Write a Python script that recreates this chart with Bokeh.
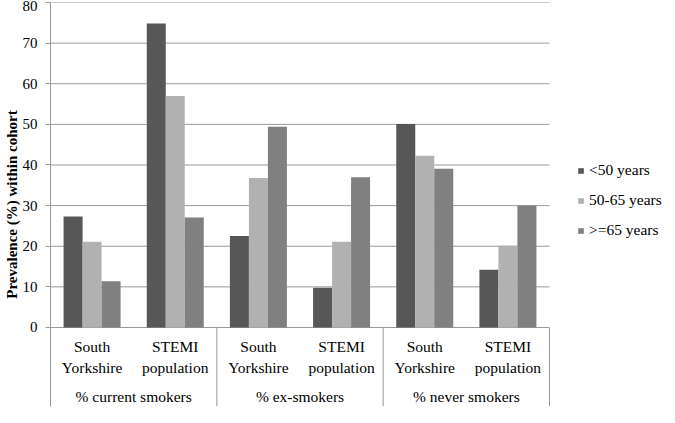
from bokeh.plotting import figure
from bokeh.models import Range1d, FixedTicker, Legend, LegendItem
from bokeh.core.properties import value
from bokeh.embed import file_html
from bokeh.resources import INLINE

# ---- data ----
groups = ["% current smokers", "% ex-smokers", "% never smokers"]
cohorts = ["South\nYorkshire", "STEMI\npopulation"]
series_names = ["<50 years", "50-65 years", ">=65 years"]
lt50 = [27.3, 74.8, 22.5, 9.8, 50.1, 14.2]
mid = [21.1, 57.0, 36.8, 21.1, 42.3, 20.1]
ge65 = [11.4, 27.1, 49.4, 37.0, 39.1, 30.0]
y_ticks = [0, 10, 20, 30, 40, 50, 60, 70, 80]
colors = ["#575757", "#b1b1b1", "#808080"]

FONT = "Liberation Serif"
GRID = "#9a9a9a"

n_sub = len(cohorts)
n_cat = len(groups) * n_sub
px_per_unit = 499.0 / n_cat
frame_w = 617
y_min = -19.45

p = figure(width=667, height=415, output_backend="svg", toolbar_location=None,
           x_range=Range1d(0, frame_w / px_per_unit), y_range=Range1d(y_min, y_ticks[-1]),
           x_axis_location=None, min_border_left=50, min_border_right=0,
           min_border_top=2, min_border_bottom=9, outline_line_color=None,
           background_fill_color="white", border_fill_color="white")
p.xgrid.visible = False
p.ygrid.visible = False

ax = p.yaxis[0]
ax.ticker = FixedTicker(ticks=y_ticks)
ax.minor_tick_line_color = None
ax.major_tick_in = 0
ax.major_tick_out = 5
ax.major_label_standoff = 8
ax.axis_line_color = GRID
ax.major_tick_line_color = GRID
ax.major_label_text_font = FONT
ax.major_label_text_font_size = "15px"
ax.major_label_text_color = "black"
ax.axis_label = "Prevalence (%) within cohort"
ax.axis_label_text_font = FONT
ax.axis_label_text_font_style = "bold"
ax.axis_label_text_font_size = "15px"
ax.axis_label_text_color = "black"
ax.axis_label_standoff = 0

# gridlines across the categorical span
p.segment(x0=[0] * len(y_ticks), x1=[n_cat] * len(y_ticks), y0=y_ticks, y1=y_ticks,
          line_color=GRID, line_width=1)
# group separators below the baseline
seps = [n_sub * (g + 1) for g in range(len(groups))]
p.segment(x0=seps, x1=seps, y0=[0] * len(seps), y1=[y_min] * len(seps),
          line_color=GRID, line_width=1)

bar_w = 19.0 / px_per_unit
centers = [i + 0.5 for i in range(n_cat)]
renderers = []
for k, (vals, col) in enumerate(zip([lt50, mid, ge65], colors)):
    xs = [c + (k - 1) * bar_w for c in centers]
    r = p.vbar(x=xs, top=vals, bottom=0, width=bar_w, fill_color=col, line_color=None)
    renderers.append(r)

# category labels
sub_labels = [cohorts[i % n_sub] for i in range(n_cat)]
p.text(x=centers, y=[-7.26] * n_cat, text=sub_labels, text_align="center",
       text_baseline="middle", text_font=value(FONT), text_font_size="15.5px",
       text_color="black", text_line_height=1.24)
gx = [n_sub * g + n_sub / 2 for g in range(len(groups))]
p.text(x=gx, y=[-16.98] * len(groups), text=groups, text_align="center",
       text_baseline="middle", text_font=value(FONT), text_font_size="15.5px",
       text_color="black")

legend = Legend(items=[LegendItem(label=n, renderers=[r]) for n, r in zip(series_names, renderers)],
                location=(527, 166), padding=0, margin=0, glyph_width=7, glyph_height=7,
                label_standoff=5, spacing=10, label_height=20,
                label_text_font=FONT, label_text_font_size="15.5px", label_text_color="black",
                border_line_color=None, background_fill_alpha=0)
p.add_layout(legend)

open("out.html", "w").write(file_html(p, INLINE))
